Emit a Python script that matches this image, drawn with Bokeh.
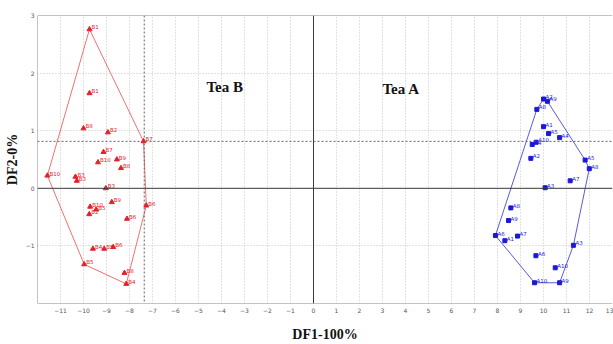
from bokeh.plotting import figure
from bokeh.models import ColumnDataSource, Span, Label, FixedTicker
from bokeh.embed import file_html
from bokeh.resources import INLINE
from bokeh.core.properties import value

# ---- data ----
b_x = [-9.74, -9.74, -10.0, -8.94, -7.39, -9.13, -8.55, -9.37, -8.37, -11.57,
       -10.35, -10.29, -9.03, -9.71, -8.77, -7.27, -9.45, -9.75, -8.11, -9.59,
       -9.10, -8.71, -9.97, -8.22, -8.14]
b_y = [2.76, 1.65, 1.04, 0.97, 0.815, 0.63, 0.50, 0.45, 0.35, 0.22,
       0.20, 0.13, 0.00, -0.32, -0.24, -0.30, -0.37, -0.45, -0.53, -1.05,
       -1.05, -1.02, -1.32, -1.47, -1.66]
b_lab = ["B1", "B1", "B8", "B2", "B7", "B7", "B9", "B10", "B8", "B10",
         "B3", "B3", "B3", "B10", "B9", "B6", "B5", "B2", "B6", "B4",
         "B5", "B6", "B5", "B8", "B4"]

a_x = [10.0, 10.17, 9.71, 10.0, 10.22, 10.7, 9.68, 9.51, 9.45, 11.81,
       11.99, 11.16, 10.07, 8.58, 8.48, 7.91, 8.32, 8.87, 11.3, 9.67,
       10.51, 9.61, 10.7]
a_y = [1.55, 1.51, 1.37, 1.07, 0.95, 0.88, 0.80, 0.76, 0.52, 0.49,
       0.34, 0.13, 0.01, -0.34, -0.56, -0.82, -0.91, -0.83, -0.99, -1.17,
       -1.38, -1.64, -1.64]
a_lab = ["A2", "A9", "A8", "A1", "A5", "A4", "A10", "A4", "A2", "A5",
         "A8", "A7", "A3", "A8", "A9", "A6", "A1", "A7", "A3", "A6",
         "A10", "A10", "A9"]

x_ticks = list(range(-11, 14))
y_ticks = [-1, 0, 1, 2, 3]
x_lo, x_hi = -12, 13
y_lo, y_hi = -2, 3
ref_x = -7.36   # dashed reference lines
ref_y = 0.815
x_title = "DF1-100%"
y_title = "DF2-0%"


def hull(xs, ys):
    pts = sorted(set(zip(xs, ys)))
    def cross(o, a, b):
        return (a[0]-o[0])*(b[1]-o[1]) - (a[1]-o[1])*(b[0]-o[0])
    lower, upper = [], []
    for pt in pts:
        while len(lower) >= 2 and cross(lower[-2], lower[-1], pt) <= 0:
            lower.pop()
        lower.append(pt)
    for pt in reversed(pts):
        while len(upper) >= 2 and cross(upper[-2], upper[-1], pt) <= 0:
            upper.pop()
        upper.append(pt)
    h = lower[:-1] + upper[:-1]
    h.append(h[0])
    return [q[0] for q in h], [q[1] for q in h]


p = figure(width=613, height=344, x_range=(x_lo, x_hi), y_range=(y_lo, y_hi),
           output_backend="svg", toolbar_location=None,
           min_border_left=37, min_border_right=1, min_border_top=15,
           min_border_bottom=40)
p.background_fill_color = "white"
p.border_fill_color = "white"
p.outline_line_color = None

p.xaxis.ticker = FixedTicker(ticks=x_ticks)
p.yaxis.ticker = FixedTicker(ticks=y_ticks)
for ax in (p.xaxis[0], p.yaxis[0]):
    ax.axis_line_color = None
    ax.major_tick_line_color = None
    ax.minor_tick_line_color = None
    ax.major_tick_out = 0
    ax.major_tick_in = 0
    ax.minor_tick_out = 0
    ax.minor_tick_in = 0
    ax.major_label_text_font = "DejaVu Sans"
    ax.major_label_text_font_size = "6px"
    ax.major_label_text_color = "#555555"
    ax.axis_label_text_font = "Liberation Serif"
    ax.axis_label_text_font_style = "bold"
    ax.axis_label_text_font_size = "14px"
    ax.axis_label_text_color = "#111111"
p.xaxis.axis_label = x_title
p.yaxis.axis_label = y_title
p.xaxis.major_label_standoff = 4
p.xaxis.axis_label_standoff = 11
p.yaxis.major_label_standoff = 3
p.yaxis.axis_label_standoff = 3

p.grid.grid_line_color = "#c4c4c4"
p.grid.grid_line_dash = "1 2"
p.grid.grid_line_width = 1

frame_col = "#8a8a8a"
p.add_layout(Span(location=x_lo, dimension="height", line_color=frame_col, line_width=1))
p.add_layout(Span(location=y_hi, dimension="width", line_color=frame_col, line_width=1))
p.add_layout(Span(location=y_lo, dimension="width", line_color=frame_col, line_width=1))

p.add_layout(Span(location=0, dimension="height", line_color="#3a3a3a", line_width=1))
p.add_layout(Span(location=0, dimension="width", line_color="#3a3a3a", line_width=1))
p.add_layout(Span(location=ref_x, dimension="height", line_color="#606060",
                  line_width=1, line_dash="2 2"))
p.add_layout(Span(location=ref_y, dimension="width", line_color="#606060",
                  line_width=1, line_dash="2 2"))

red_pt = "#e3202a"
red_ln = "#f07070"
blue_pt = "#1a1ad6"
blue_ln = "#5a5ae0"

hbx, hby = hull(b_x, b_y)
hax, hay = hull(a_x, a_y)
p.line(hbx, hby, line_color=red_ln, line_width=1)
p.line(hax, hay, line_color=blue_ln, line_width=1)

src_b = ColumnDataSource(dict(x=b_x, y=b_y, t=b_lab))
src_a = ColumnDataSource(dict(x=a_x, y=a_y, t=a_lab))
p.scatter("x", "y", source=src_b, marker="triangle", size=5, color=red_pt)
p.scatter("x", "y", source=src_a, marker="square", size=4, color=blue_pt)
p.text("x", "y", text="t", source=src_b, x_offset=2, y_offset=-2,
       text_font=value("DejaVu Sans"), text_font_size="5.5px",
       text_color=red_pt, text_baseline="middle", text_align="left")
p.text("x", "y", text="t", source=src_a, x_offset=2, y_offset=-2,
       text_font=value("DejaVu Sans"), text_font_size="5.5px",
       text_color=blue_pt, text_baseline="middle", text_align="left")

p.add_layout(Label(x=-3.86, y=1.76, text="Tea B", text_font="Liberation Serif",
                   text_font_style="bold", text_font_size="15px",
                   text_color="#111111", text_align="center", text_baseline="middle"))
p.add_layout(Label(x=3.81, y=1.72, text="Tea A", text_font="Liberation Serif",
                   text_font_style="bold", text_font_size="15px",
                   text_color="#111111", text_align="center", text_baseline="middle"))

open("out.html", "w").write(file_html(p, INLINE))
